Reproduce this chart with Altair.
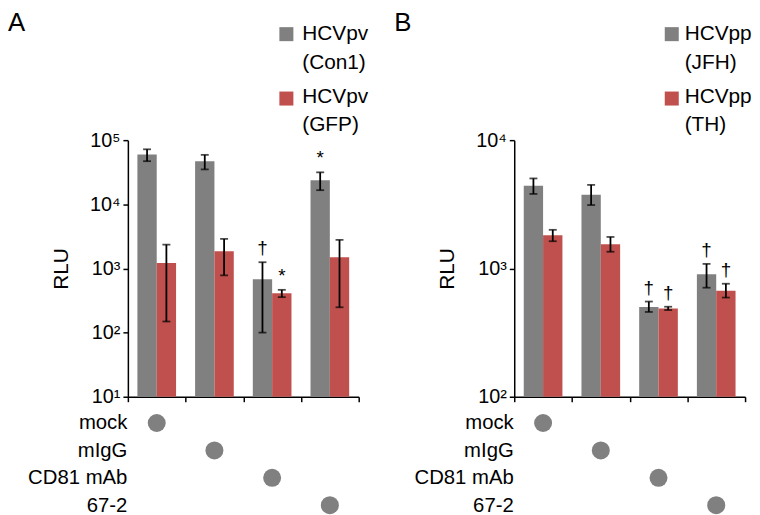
import altair as alt
import pandas as pd

# ---------------- data ----------------
groups = ["mock", "mIgG", "CD81 mAb", "67-2"]
colors = ["#808080", "#c0504d"]

a_series = ["HCVpv\n(Con1)", "HCVpv\n(GFP)"]
a_con1 = [59600, 47000, 680, 23700]
a_con1_lo = [47000, 35000, 100, 16600]
a_con1_hi = [72000, 59000, 1250, 31500]
a_con1_sig = ["", "", "†", "*"]
a_gfp = [1220, 1850, 412, 1490]
a_gfp_lo = [149, 780, 357, 248]
a_gfp_hi = [2350, 2890, 464, 2790]
a_gfp_sig = ["", "", "*", ""]
a_ticks = [10, 100, 1000, 10000, 100000]

b_series = ["HCVpp\n(JFH)", "HCVpp\n(TH)"]
b_jfh = [4420, 3760, 500, 900]
b_jfh_lo = [3810, 3120, 458, 708]
b_jfh_hi = [5030, 4480, 552, 1085]
b_jfh_sig = ["", "", "†", "†"]
b_th = [1815, 1545, 488, 671]
b_th_lo = [1630, 1350, 474, 593]
b_th_hi = [2000, 1760, 503, 760]
b_th_sig = ["", "", "†", "†"]
b_ticks = [100, 1000, 10000]

FONT = "Liberation Sans"
SUP = "['⁰','¹','²','³','⁴','⁵','⁶']"
W, H = 233, 259
GAP = 0.165     # outer gap of each group, in group units
BARW = 0.335    # bar width, in group units


def long_df(series, vals, los, his, sigs):
    rows = []
    for si, (s, v, lo, hi, sg) in enumerate(zip(series, vals, los, his, sigs)):
        for gi, (g, vv, ll, hh, ss) in enumerate(zip(groups, v, lo, hi, sg)):
            rows.append({"group": g, "gi": gi, "series": s, "si": si,
                         "value": vv, "lo": ll, "hi": hh, "sig": ss})
    return pd.DataFrame(rows)


def top_panel(letter, series, vals, los, his, sigs, ticks, leg_x, leg_tx):
    df = long_df(series, vals, los, his, sigs)
    n = len(groups)
    xsc = alt.Scale(domain=[0, n], nice=False, zero=False)
    xax = alt.Axis(values=list(range(n + 1)), labels=False, title=None, grid=False, tickSize=5)
    ysc = alt.Scale(type="log", domain=[ticks[0], ticks[-1]], nice=False)
    yax = alt.Axis(values=ticks, title="RLU", grid=False, tickSize=5, labelPadding=3,
                   titlePadding=18,
                   labelExpr="'10' + " + SUP + "[round(log(datum.value)/LN10)]")
    base = alt.Chart(df).transform_calculate(
        x0=f"datum.gi + {GAP} + datum.si * {BARW}",
        x1=f"datum.gi + {GAP} + (datum.si + 1) * {BARW}",
        xc=f"datum.gi + {GAP} + (datum.si + 0.5) * {BARW}",
    )
    bars = base.mark_bar().encode(
        x=alt.X("x0:Q", scale=xsc, axis=xax), x2="x1:Q",
        y=alt.Y("value:Q", scale=ysc, axis=yax),
        y2=alt.datum(ticks[0]),
        color=alt.Color("series:N", sort=series,
                        scale=alt.Scale(domain=series, range=colors), legend=None),
    )
    xc = alt.X("xc:Q", scale=xsc, axis=xax)
    rules = base.mark_rule(color="black", strokeWidth=1.8).encode(
        x=xc, y=alt.Y("lo:Q", scale=ysc, axis=yax), y2="hi:Q")
    cap_hi = base.mark_tick(color="black", thickness=1.8, size=8, orient="horizontal").encode(
        x=xc, y=alt.Y("hi:Q", scale=ysc, axis=yax))
    cap_lo = base.mark_tick(color="black", thickness=1.8, size=8, orient="horizontal").encode(
        x=xc, y=alt.Y("lo:Q", scale=ysc, axis=yax))
    sig = base.mark_text(baseline="bottom", dy=-4, fontSize=19, font=FONT, color="black").encode(
        x=xc, y=alt.Y("hi:Q", scale=ysc, axis=yax), text="sig:N")

    extras = []
    extras.append(alt.Chart(pd.DataFrame({"t": [letter]})).mark_text(
        align="left", baseline="top", fontSize=26, font=FONT, color="black").encode(
        text="t:N", x=alt.value(-121), y=alt.value(-131)))
    for i, s in enumerate(series):
        sdf = pd.DataFrame({"s": [s]})
        extras.append(alt.Chart(sdf).mark_square(size=200, opacity=1).encode(
            x=alt.value(leg_x), y=alt.value(-107 + i * 65), color=alt.value(colors[i])))
        extras.append(alt.Chart(sdf).mark_text(
            align="left", baseline="alphabetic", lineBreak="\n", lineHeight=29,
            fontSize=21, font=FONT, color="black").encode(
            text="s:N", x=alt.value(leg_tx), y=alt.value(-101 + i * 63)))

    return alt.layer(bars, rules, cap_hi, cap_lo, sig, *extras).properties(width=W, height=H)


def dots_panel():
    dots_df = pd.DataFrame({"group": groups, "row": groups})
    return alt.Chart(dots_df).mark_circle(size=330, color="#808080", opacity=1).encode(
        x=alt.X("group:N", sort=groups, scale=alt.Scale(paddingInner=0, paddingOuter=0), axis=None),
        y=alt.Y("row:N", sort=groups, scale=alt.Scale(range=[14.5, 97.5], padding=0),
                axis=alt.Axis(title=None, ticks=False, domain=False, labelFontSize=20.5,
                              labelPadding=1)),
    ).properties(width=W, height=100)


top_a = top_panel("A", a_series, [a_con1, a_gfp], [a_con1_lo, a_gfp_lo], [a_con1_hi, a_gfp_hi],
                  [a_con1_sig, a_gfp_sig], a_ticks, 160, 176)
top_b = top_panel("B", b_series, [b_jfh, b_th], [b_jfh_lo, b_th_lo], [b_jfh_hi, b_th_hi],
                  [b_jfh_sig, b_th_sig], b_ticks, 159, 172)

chart = alt.concat(top_a, top_b, dots_panel(), dots_panel(), columns=2, bounds="flush",
                   spacing={"row": 12, "column": 157}).properties(
    padding=0
).configure(font=FONT).configure_view(stroke=None).configure_axis(
    labelFont=FONT, titleFont=FONT, labelColor="black", titleColor="black",
    domainColor="black", tickColor="black", domainWidth=1.5, tickWidth=1.5,
    labelFontSize=20, titleFontSize=21, titleFontWeight="normal")

chart.save("out.html", embed_options={"renderer": "svg", "actions": False})
